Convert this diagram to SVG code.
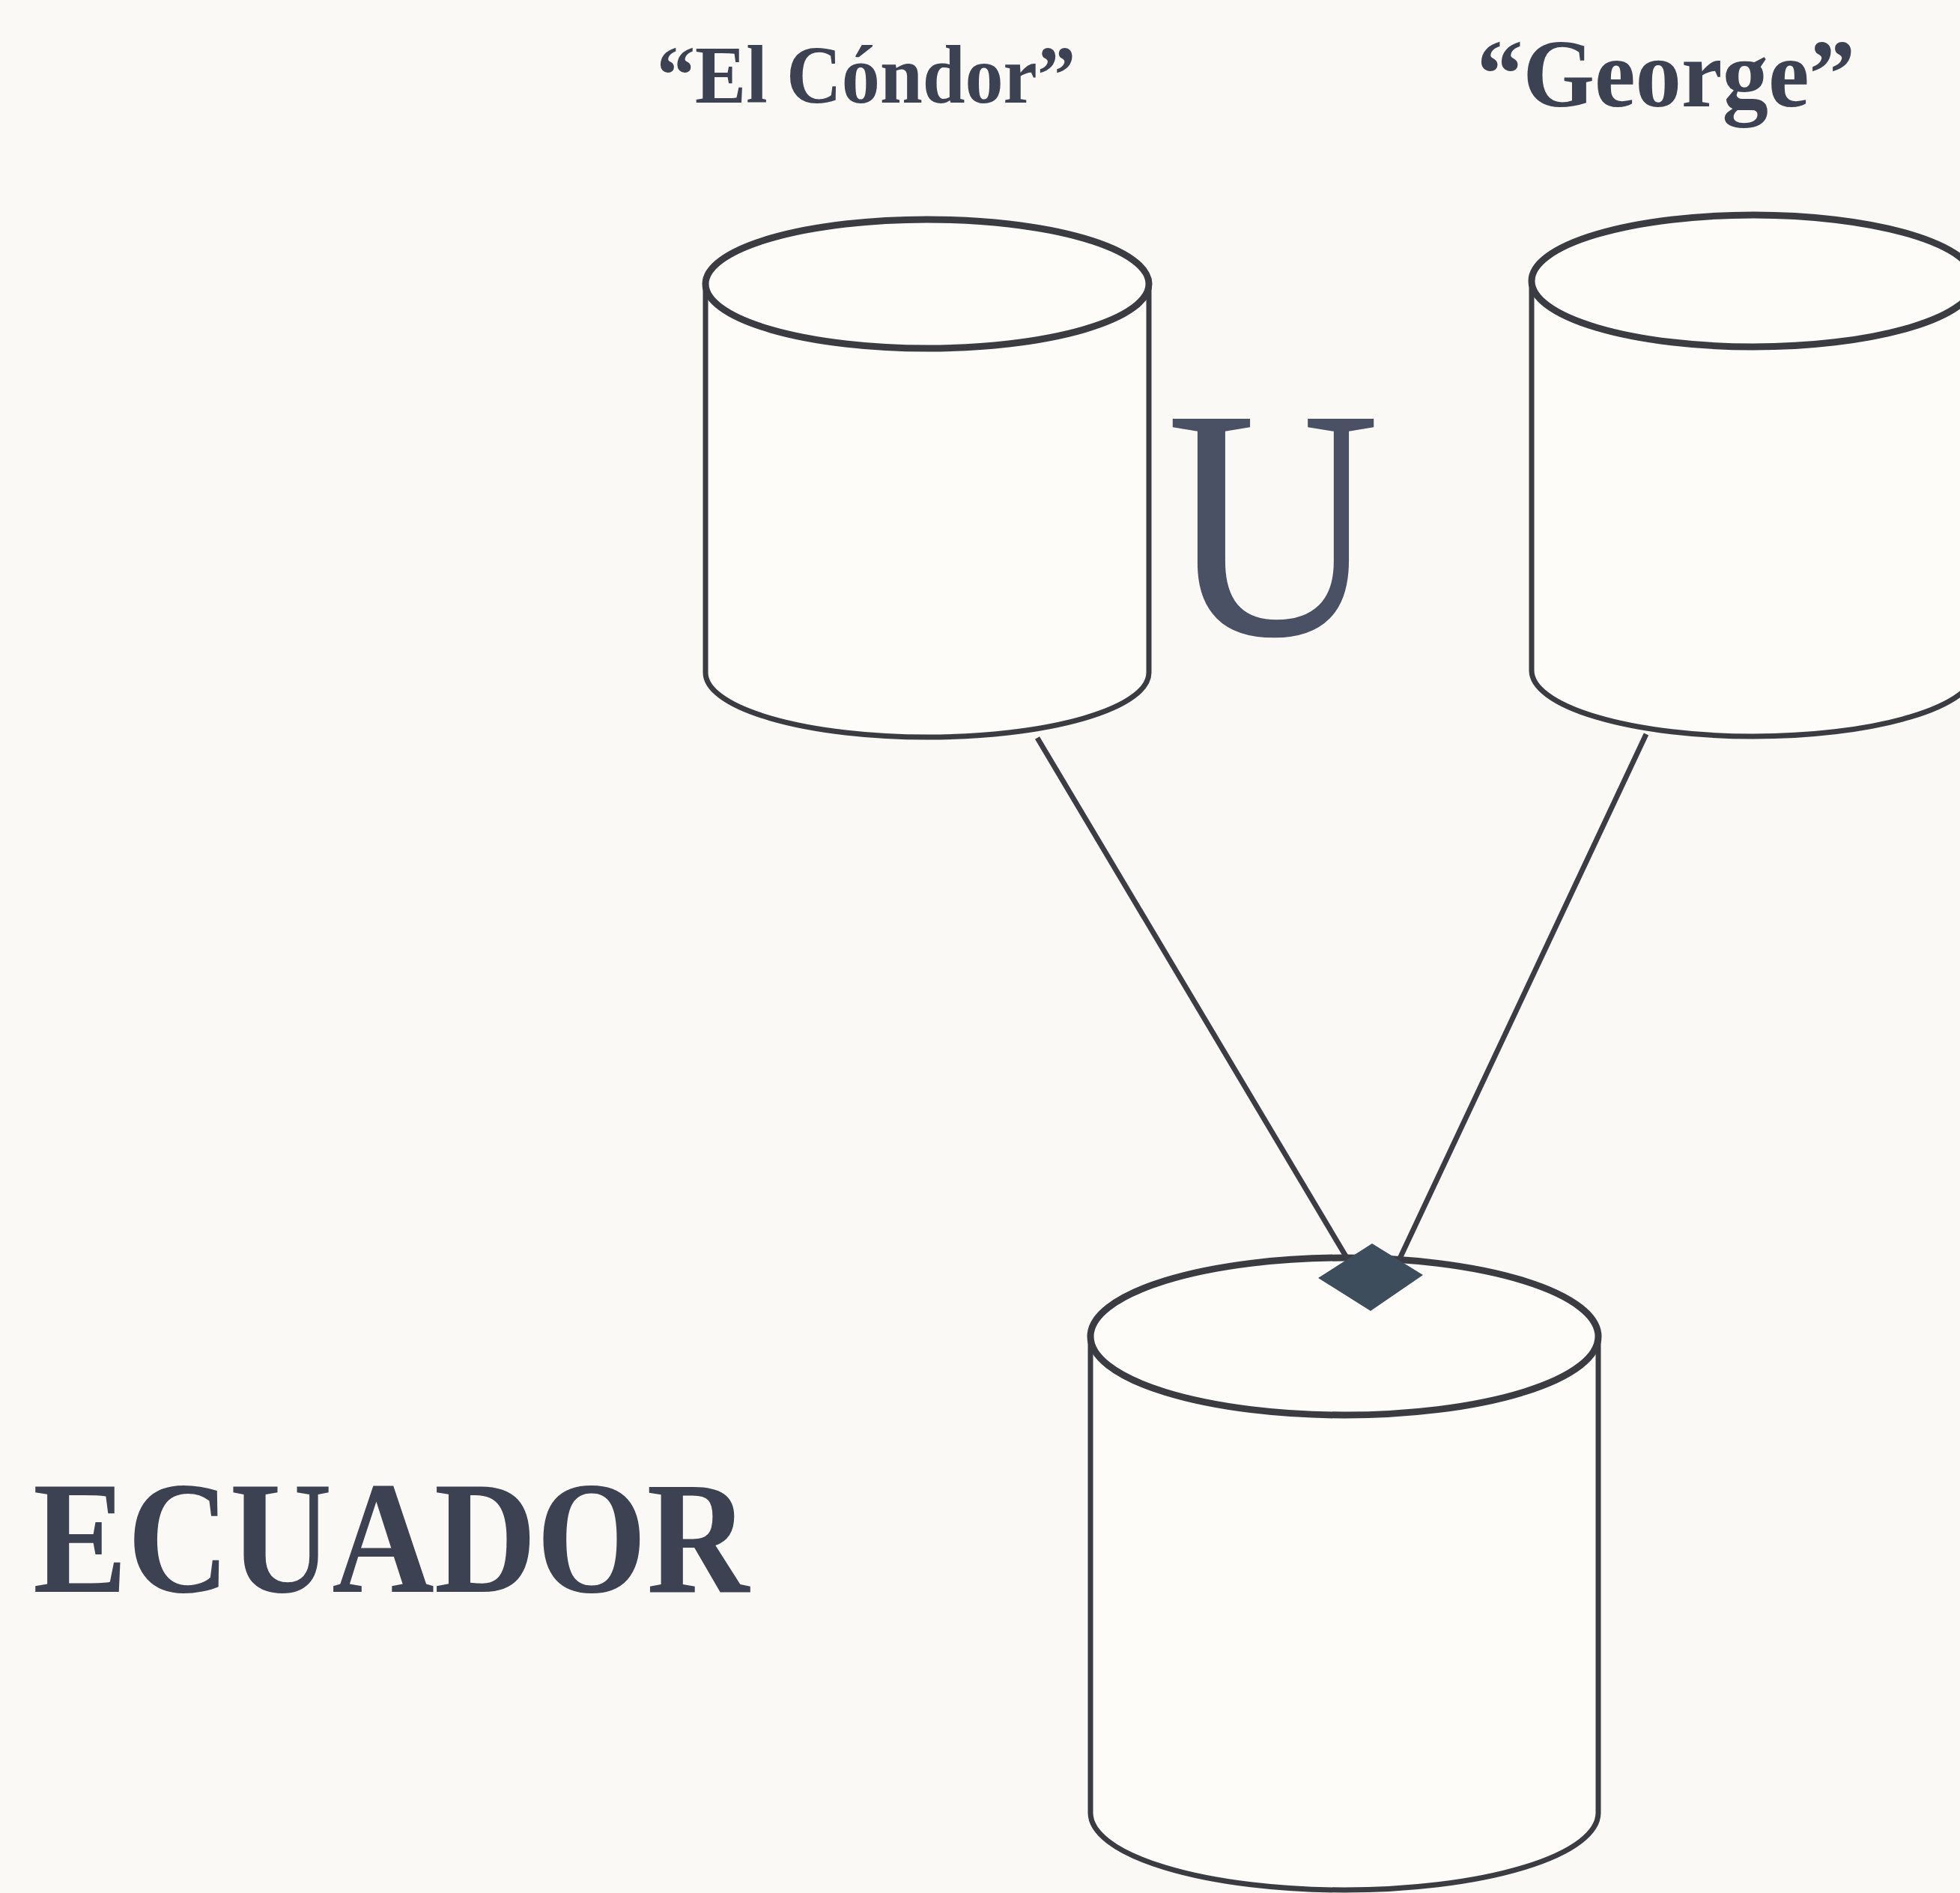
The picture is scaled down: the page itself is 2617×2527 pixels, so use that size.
<svg xmlns="http://www.w3.org/2000/svg" width="2617" height="2527" viewBox="0 0 2617 2527">
<style>
.cyl{fill:#fdfcf9;stroke:#3b3b42;stroke-width:7}
.lid{fill:#fdfcf9;stroke:#3b3b42;stroke-width:9}
.lbl{font-family:"Liberation Serif","Times New Roman",serif;font-weight:bold;fill:#3d4252}
.conn{stroke:#3b3c44;stroke-width:7;fill:none}
</style>
<rect width="2617" height="2527" fill="#fbf9f5"/>
<g id="condor">
<path class="cyl" d="M942,379 L942,898 A296,86 0 0 0 1534,898 L1534,379"/>
<ellipse class="lid" cx="1238" cy="379" rx="296" ry="86"/>
<text class="lbl" x="877" y="137" font-size="110" textLength="559" lengthAdjust="spacingAndGlyphs">“El Cóndor”</text>
</g>
<g id="george">
<path class="cyl" d="M2045,375 L2045,895 A296,88 0 0 0 2637,895 L2637,375"/>
<ellipse class="lid" cx="2341" cy="375" rx="296" ry="88"/>
<text class="lbl" x="1972" y="142" font-size="130" textLength="505" lengthAdjust="spacingAndGlyphs">“George”</text>
</g>
<g id="union">
<text x="1700" y="847" font-size="440" text-anchor="middle" font-family="Liberation Serif, serif" fill="#4a5164" textLength="285" lengthAdjust="spacingAndGlyphs">U</text>
</g>
<g id="ecuador">
<path class="cyl" d="M1456,1784 L1456,2420 A339,103 0 0 0 2134,2420 L2134,1784"/>
<ellipse class="lid" cx="1795" cy="1784" rx="339" ry="105"/>
<text class="lbl" x="44" y="2125" font-size="215" textLength="956" lengthAdjust="spacingAndGlyphs">ECUADOR</text>
</g>
<g id="connectors">
<line class="conn" x1="1385" y1="985" x2="1800" y2="1682"/>
<line class="conn" x1="2198" y1="980" x2="1868" y2="1682"/>
<polygon points="1832,1660 1900,1702 1830,1750 1760,1706" fill="#3d4d5c"/>
</g>
</svg>
